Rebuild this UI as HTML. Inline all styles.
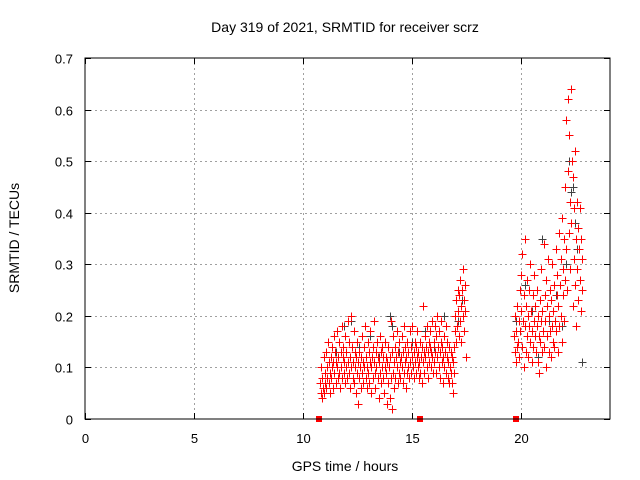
<!DOCTYPE html>
<html><head><meta charset="utf-8"><style>
body{margin:0;background:#fff}
svg{display:block;font-family:"Liberation Sans",sans-serif}
</style></head><body>
<svg id="chart" width="640" height="480">
<text x="345" y="32" text-anchor="middle" font-size="14">Day 319 of 2021, SRMTID for receiver scrz</text>
<text x="345" y="471" text-anchor="middle" font-size="14">GPS time / hours</text>
<text transform="translate(19,238) rotate(-90)" text-anchor="middle" font-size="14">SRMTID / TECUs</text>
<g id="grid"></g>
<g id="ticks"></g>
<g id="blk"></g>
<g id="red"></g>
<g id="marks"></g>
<rect x="85" y="58" width="525" height="361" fill="none" stroke="#000" stroke-width="1"/>
</svg>
<script>
const xTicks=[0,5,10,15,20];
const yTicks=[0,0.1,0.2,0.3,0.4,0.5,0.6,0.7];
const yTickLabels=["0","0.1","0.2","0.3","0.4","0.5","0.6","0.7"];
const gapMarkers=[10.75,15.4,19.78];
const redSeries=[[10.80,.07],[10.82,.05],[10.85,.10],[10.87,.04],[10.90,.08],[10.93,.06],[10.95,.12],[10.98,.05],[11.00,.09],[11.03,.07],[11.05,.13],[11.08,.06],[11.10,.10],[11.13,.08],[11.15,.15],[11.18,.07],[11.20,.11],[11.23,.09],[11.25,.05],[11.28,.12],[11.30,.08],[11.33,.14],[11.35,.10],[11.38,.06],[11.40,.11],[11.43,.16],[11.45,.09],[11.48,.13],[11.50,.07],[11.53,.11],[11.55,.17],[11.58,.10],[11.60,.08],[11.63,.12],[11.65,.15],[11.68,.09],[11.70,.06],[11.73,.13],[11.75,.10],[11.78,.18],[11.80,.08],[11.83,.12],[11.85,.14],[11.88,.09],[11.90,.11],[11.93,.07],[11.95,.16],[11.98,.10],
[12.00,.13],[12.03,.08],[12.05,.19],[12.08,.11],[12.10,.09],[12.13,.15],[12.15,.06],[12.18,.12],[12.20,.20],[12.23,.10],[12.25,.14],[12.28,.08],[12.30,.11],[12.33,.17],[12.35,.07],[12.38,.13],[12.40,.10],[12.43,.05],[12.45,.12],[12.48,.09],[12.50,.15],[12.53,.11],[12.55,.03],[12.58,.08],[12.60,.13],[12.63,.10],[12.65,.06],[12.68,.12],[12.70,.16],[12.73,.09],[12.75,.11],[12.78,.07],[12.80,.14],[12.83,.10],[12.85,.18],[12.88,.08],[12.90,.12],[12.93,.06],[12.95,.10],[12.98,.15],
[13.00,.09],[13.03,.13],[13.05,.07],[13.08,.11],[13.10,.17],[13.13,.10],[13.15,.05],[13.18,.12],[13.20,.08],[13.23,.14],[13.25,.11],[13.28,.19],[13.30,.09],[13.33,.06],[13.35,.13],[13.38,.10],[13.40,.15],[13.43,.08],[13.45,.12],[13.48,.04],[13.50,.11],[13.53,.16],[13.55,.09],[13.58,.13],[13.60,.07],[13.63,.10],[13.65,.14],[13.68,.08],[13.70,.12],[13.73,.05],[13.75,.10],[13.78,.15],[13.80,.09],[13.83,.12],[13.85,.03],[13.88,.11],[13.90,.07],[13.93,.14],[13.95,.10],[13.98,.04],[14.00,.12],[14.03,.19],[14.05,.08],[14.08,.02],[14.10,.13],[14.13,.09],[14.15,.16],[14.18,.06],[14.20,.11],[14.23,.14],[14.25,.08],[14.28,.12],[14.30,.17],[14.33,.10],[14.35,.07],[14.38,.13],[14.40,.09],[14.43,.15],[14.45,.11],[14.48,.08],
[14.50,.12],[14.53,.16],[14.55,.10],[14.58,.07],[14.60,.13],[14.63,.09],[14.65,.18],[14.68,.11],[14.70,.14],[14.73,.06],[14.75,.12],[14.78,.09],[14.80,.15],[14.83,.10],[14.85,.13],[14.88,.08],[14.90,.17],[14.93,.11],[14.95,.14],[14.98,.09],[15.00,.12],[15.03,.18],[15.05,.10],[15.08,.13],[15.10,.08],[15.13,.15],[15.15,.11],[15.18,.09],[15.20,.14],[15.23,.12],[15.25,.17],[15.28,.10],[15.30,.13],[15.33,.08],[15.35,.11],[15.38,.15],[15.40,.09],[15.43,.12],[15.45,.07],[15.48,.14],[15.50,.11],[15.53,.22],[15.55,.13],[15.58,.09],[15.60,.16],[15.63,.12],[15.65,.14],[15.68,.10],[15.70,.18],[15.73,.13],[15.75,.08],[15.78,.15],[15.80,.11],[15.83,.14],[15.85,.17],[15.88,.10],[15.90,.13],[15.93,.19],[15.95,.12],[15.98,.09],
[16.00,.15],[16.03,.11],[16.05,.18],[16.08,.13],[16.10,.09],[16.13,.16],[16.15,.12],[16.18,.20],[16.20,.14],[16.23,.10],[16.25,.17],[16.28,.13],[16.30,.08],[16.33,.15],[16.35,.19],[16.38,.11],[16.40,.14],[16.43,.07],[16.45,.12],[16.48,.16],[16.50,.10],[16.53,.13],[16.55,.18],[16.58,.09],[16.60,.12],[16.63,.15],[16.65,.08],[16.68,.11],[16.70,.14],[16.73,.07],[16.75,.10],[16.78,.13],[16.80,.09],[16.83,.12],[16.85,.07],[16.88,.11],[16.90,.05],[16.93,.09],[16.95,.14],[16.98,.17],[17.00,.20],[17.03,.15],[17.05,.23],[17.08,.18],[17.10,.25],[17.13,.21],[17.15,.16],[17.18,.24],[17.20,.19],[17.23,.27],[17.25,.22],[17.28,.15],[17.30,.25],[17.33,.20],[17.35,.29],[17.38,.23],[17.40,.17],[17.43,.26],[17.45,.21],[17.48,.12],
[19.70,.16],[19.73,.13],[19.75,.20],[19.78,.11],[19.80,.17],[19.83,.14],[19.85,.22],[19.88,.15],[19.90,.19],[19.93,.12],[19.95,.25],[19.98,.17],[20.00,.21],[20.03,.28],[20.05,.14],[20.08,.32],[20.10,.19],[20.13,.10],[20.15,.24],[20.18,.35],[20.20,.18],[20.23,.13],[20.25,.22],[20.28,.27],[20.30,.16],[20.33,.20],[20.35,.12],[20.38,.25],[20.40,.18],[20.43,.30],[20.45,.15],[20.48,.21],[20.50,.11],[20.53,.17],[20.55,.24],[20.58,.14],[20.60,.19],[20.63,.28],[20.65,.16],[20.68,.22],[20.70,.13],[20.73,.18],[20.75,.25],[20.78,.11],[20.80,.20],[20.83,.16],[20.85,.09],[20.88,.23],[20.90,.15],[20.93,.19],[20.95,.29],[20.98,.13],[21.00,.21],[21.03,.17],[21.05,.34],[21.08,.14],[21.10,.24],[21.13,.19],[21.15,.10],[21.18,.27],[21.20,.16],[21.23,.22],[21.25,.31],[21.28,.13],[21.30,.20],[21.33,.17],[21.35,.25],[21.38,.12],[21.40,.23],[21.43,.18],[21.45,.30],[21.48,.15],[21.50,.21],[21.53,.26],[21.55,.14],[21.58,.19],[21.60,.33],[21.63,.17],[21.65,.24],[21.68,.28],[21.70,.13],[21.73,.22],[21.75,.36],[21.78,.18],[21.80,.26],[21.83,.31],[21.85,.20],[21.88,.15],[21.90,.39],[21.93,.24],[21.95,.29],[21.98,.35],[22.00,.19],[22.03,.27],[22.05,.45],[22.08,.33],[22.10,.58],[22.13,.25],[22.15,.48],[22.18,.62],[22.20,.36],[22.23,.55],[22.25,.29],[22.28,.42],[22.30,.64],[22.33,.38],[22.35,.50],[22.38,.22],[22.40,.47],[22.43,.31],[22.45,.41],[22.48,.26],[22.50,.52],[22.53,.35],[22.55,.18],[22.58,.42],[22.60,.29],[22.63,.37],[22.65,.23],[22.68,.33],[22.70,.41],[22.73,.27],[22.75,.35],[22.78,.21],[22.80,.31],[22.83,.25]];
const blackSeries=[[11.5,.13],[11.9,.18],[12.2,.19],[12.6,.14],[13.1,.16],[13.5,.12],[14.0,.20],[14.1,.18],[14.4,.13],[15.0,.15],[15.6,.17],[16.0,.14],[16.5,.20],[17.1,.19],[17.3,.23],[19.8,.19],[20.2,.26],[20.5,.21],[21.0,.35],[21.3,.19],[21.6,.24],[22.2,.50],[22.3,.44],[22.4,.45],[22.5,.38],[22.6,.33],[22.8,.11],[22.1,.30],[21.9,.18],[20.8,.12]];

const NS="http://www.w3.org/2000/svg";
const X0=85,X1=610,Y0=419,Y1=58,XMAX=24.1,YMAX=0.7;
function xs(t){return X0+(X1-X0)*t/XMAX;}
function ys(v){return Y0-(Y0-Y1)*v/YMAX;}
function mk(tag,attrs,parent){const e=document.createElementNS(NS,tag);for(const k in attrs)e.setAttribute(k,attrs[k]);parent.appendChild(e);return e;}
const grid=document.getElementById('grid'),ticks=document.getElementById('ticks');
xTicks.forEach(t=>{
  const x=Math.round(xs(t))+0.5;
  if(t>0){const g=mk('line',{x1:x,x2:x,y1:Y1,y2:Y0,stroke:'#a0a0a0','stroke-dasharray':'2,3'},grid);
  
  }
  mk('line',{x1:x,x2:x,y1:Y0,y2:Y0-6,stroke:'#000'},ticks);
  mk('line',{x1:x,x2:x,y1:Y1,y2:Y1+6,stroke:'#000'},ticks);
  const l=mk('text',{x:x,y:Y0+24,'text-anchor':'middle','font-size':13},ticks);
  l.textContent=String(t);
  
  
});
yTicks.forEach((v,i)=>{
  const y=Math.round(ys(v))+0.5;
  if(v>0&&v<YMAX){const g=mk('line',{x1:X0,x2:X1,y1:y,y2:y,stroke:'#a0a0a0','stroke-dasharray':'2,3'},grid);
  
  }
  mk('line',{x1:X0,x2:X0+6,y1:y,y2:y,stroke:'#000'},ticks);
  mk('line',{x1:X1,x2:X1-6,y1:y,y2:y,stroke:'#000'},ticks);
  const l=mk('text',{x:X0-12,y:y+5,'text-anchor':'end','font-size':13},ticks);
  l.textContent=yTickLabels[i];
  
  
});
function plus(g,t,v,col){
  const x=Math.round(xs(t))+0.5,y=Math.round(ys(v))+0.5;
  const p=mk('path',{d:`M${x-4},${y}H${x+4}M${x},${y-4}V${y+4}`,stroke:col,'stroke-width':1,fill:'none'},g);
  
  
}
const blk=document.getElementById('blk'),red=document.getElementById('red');
blackSeries.forEach(d=>plus(blk,d[0],d[1],'#404040'));
redSeries.forEach(d=>plus(red,d[0],d[1],'#ff0000'));
const marks=document.getElementById('marks');
gapMarkers.forEach(t=>{
  const r=mk('rect',{x:Math.round(xs(t))-3,y:Y0-3,width:6,height:6,fill:'#ff0000'},marks);
  
  
});
</script>
</body></html>
